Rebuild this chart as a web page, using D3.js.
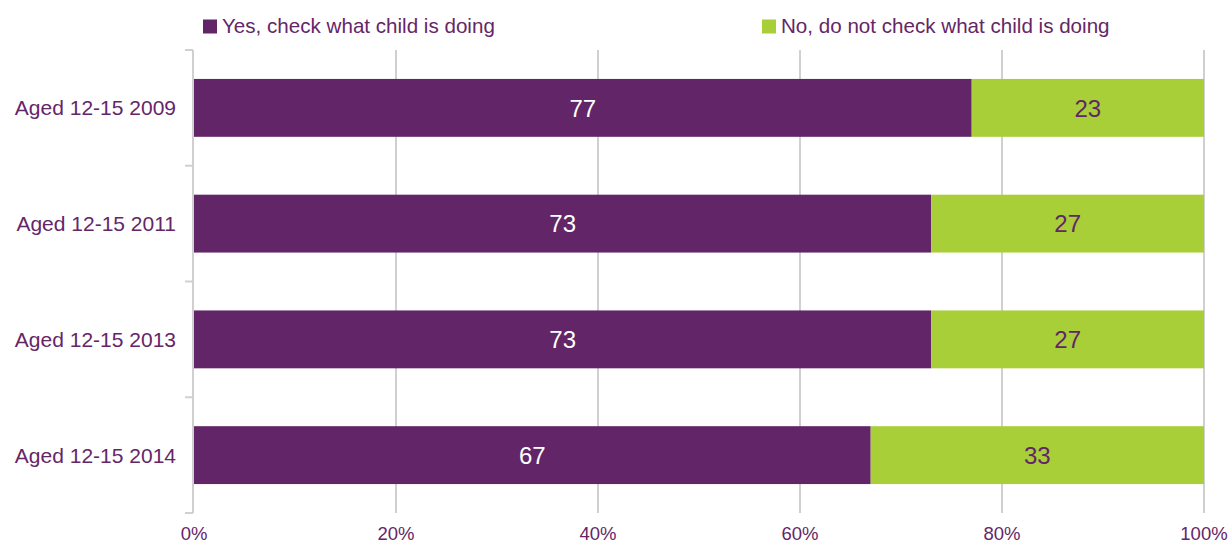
<!DOCTYPE html>
<html>
<head>
<meta charset="utf-8">
<script src="https://cdn.jsdelivr.net/npm/d3@7"></script>
<style>
body { margin: 0; background: #fff; }
svg { display: block; font-family: "Liberation Sans", Arial, sans-serif; }
</style>
</head>
<body>
<svg id="chart" width="1229" height="545"></svg>
<script>
const categories = ["Aged 12-15 2009", "Aged 12-15 2011", "Aged 12-15 2013", "Aged 12-15 2014"];
const seriesNames = ["Yes, check what child is doing", "No, do not check what child is doing"];
const yesValues = [77, 73, 73, 67];
const noValues = [23, 27, 27, 33];
const tickValues = [0, 20, 40, 60, 80, 100];
const colors = ["#622567", "#A8CF38"];
const labelColors = ["#ffffff", "#622567"];
const textColor = "#652668";
const gridColor = "#d0d0d0";

const svg = d3.select("#chart");
const margin = { left: 194, right: 25, top: 50, bottom: 32 };
const W = 1229, H = 545;

const x = d3.scaleLinear().domain([0, 100]).range([margin.left, W - margin.right]);
const y = d3.scaleBand().domain(categories).range([margin.top, H - margin.bottom]).paddingInner(0.5).paddingOuter(0.25);

// gridlines
svg.append("g").selectAll("line").data(tickValues.filter(d => d > 0)).join("line")
  .attr("x1", d => x(d)).attr("x2", d => x(d))
  .attr("y1", margin.top).attr("y2", H - margin.bottom)
  .attr("stroke", gridColor).attr("stroke-width", 2);

// stacked data
const rows = categories.map((c, i) => ({ cat: c, yes: yesValues[i], no: noValues[i] }));
const stack = d3.stack().keys(["yes", "no"])(rows);

stack.forEach((layer, li) => {
  const g = svg.append("g");
  g.selectAll("rect").data(layer).join("rect")
    .attr("x", d => x(d[0]))
    .attr("width", d => x(d[1]) - x(d[0]))
    .attr("y", d => y(d.data.cat))
    .attr("height", y.bandwidth())
    .attr("fill", colors[li]);
  g.selectAll("text").data(layer).join("text")
    .attr("x", d => (x(d[0]) + x(d[1])) / 2)
    .attr("y", d => y(d.data.cat) + y.bandwidth() / 2)
    .attr("dy", "0.36em")
    .attr("text-anchor", "middle")
    .attr("font-size", 24)
    .attr("fill", labelColors[li])
    .text(d => d[1] - d[0]);
});

// y axis
const yAxisG = svg.append("g");
const yTop = margin.top, yBot = H - margin.bottom;
yAxisG.append("line").attr("x1", x(0) - 1).attr("x2", x(0) - 1).attr("y1", yTop).attr("y2", yBot)
  .attr("stroke", gridColor).attr("stroke-width", 2);
const boundaries = d3.range(categories.length + 1).map(i => yTop + i * y.step());
yAxisG.selectAll("line.tick").data(boundaries).join("line").attr("class", "tick")
  .attr("x1", x(0) - 9).attr("x2", x(0) - 1).attr("y1", d => d).attr("y2", d => d)
  .attr("stroke", gridColor).attr("stroke-width", 2);
yAxisG.selectAll("text").data(categories).join("text")
  .attr("x", x(0) - 18)
  .attr("y", d => y(d) + y.bandwidth() / 2)
  .attr("dy", "0.36em")
  .attr("text-anchor", "end")
  .attr("font-size", 21)
  .attr("fill", textColor)
  .text(d => d);

// x axis labels
svg.append("g").selectAll("text").data(tickValues).join("text")
  .attr("x", d => x(d))
  .attr("y", H - 5)
  .attr("text-anchor", "middle")
  .attr("font-size", 18.5)
  .attr("fill", textColor)
  .text(d => d + "%");

// legend
const legendX = [203, 762];
const lg = svg.append("g");
seriesNames.forEach((name, i) => {
  lg.append("rect").attr("x", legendX[i]).attr("y", 19.5).attr("width", 14).attr("height", 14).attr("fill", colors[i]);
  lg.append("text").attr("x", legendX[i] + 19).attr("y", 33).attr("font-size", 20.6).attr("fill", textColor).text(name);
});
</script>
</body>
</html>
